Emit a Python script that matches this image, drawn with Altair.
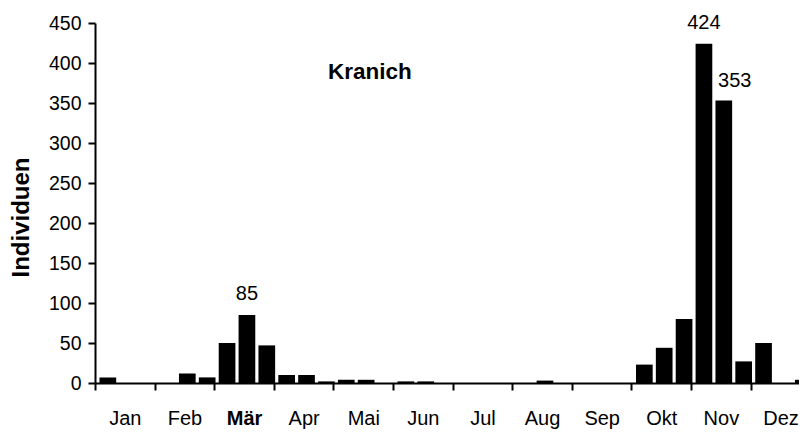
import json
import altair as alt
import pandas as pd

# ---- data ----
months = ["Jan", "Feb", "Mär", "Apr", "Mai", "Jun", "Jul", "Aug", "Sep", "Okt", "Nov", "Dez"]
# three values (Dekaden) per month
decade_values = [
    7, 0, 0,        # Jan
    0, 12, 7,       # Feb
    50, 85, 47,     # Mär
    10, 10, 2,      # Apr
    4, 4, 0,        # Mai
    2, 2, 0,        # Jun
    0, 0, 0,        # Jul
    0, 3, 0,        # Aug
    0, 0, 0,        # Sep
    23, 44, 80,     # Okt
    424, 353, 27,   # Nov
    50, 0, 4,       # Dez
]
y_ticks = [0, 50, 100, 150, 200, 250, 300, 350, 400, 450]
labeled_values = [85, 424]
shifted_labels = [353]

df = pd.DataFrame({
    "slot": list(range(len(decade_values))),
    "value": decade_values,
    "month": [m for m in months for _ in range(3)],
})

FONT = "Liberation Sans"
month_ticks = [3 * k for k in range(len(months))]
month_centres = [3 * k + 1.5 for k in range(len(months))]
axis_values = sorted(month_ticks + month_centres)

label_expr = ("datum.value % 3 == 0 ? '' : "
              + json.dumps(months, ensure_ascii=False)
              + "[floor(datum.value / 3)]")

PLOT_W = 704
x_scale = alt.Scale(domain=[0, PLOT_W / 19.87], nice=False, zero=False)
y_scale = alt.Scale(domain=[0, 450], nice=False)

x_axis = alt.Axis(
    values=axis_values,
    labelExpr=label_expr,
    title=None,
    tickOpacity={"expr": "datum.value % 3 == 0 ? 1 : 0"},
    labelFontSize=20,
    labelFontWeight={"expr": "datum.value == 7.5 ? 'bold' : 'normal'"},
    labelBaseline="alphabetic",
    labelPadding=34,
)

y_axis = alt.Axis(
    values=y_ticks,
    title="Individuen",
    titleFontSize=24,
    titleFontWeight="bold",
    titleAngle=270,
    titleAlign="center",
    titleBaseline="alphabetic",
    titleX=-67,
    titleY=194,
    labelFontSize=19.5,
    labelPadding=7,
)

base = alt.Chart(df).transform_calculate(
    x0="datum.slot + 0.226",
    x1="datum.slot + 1.066",
    xc="datum.slot + 0.646",
)

bars = base.mark_rect(color="black", clip=True).encode(
    x=alt.X("x0:Q", scale=x_scale, axis=x_axis),
    x2="x1:Q",
    y=alt.Y("value:Q", scale=y_scale, axis=y_axis),
    y2=alt.datum(0),
)

labels = base.transform_filter(
    alt.FieldOneOfPredicate(field="value", oneOf=labeled_values)
).mark_text(
    font=FONT, fontSize=20, color="black", baseline="alphabetic", dy=-15
).encode(
    x=alt.X("xc:Q", scale=x_scale, axis=x_axis),
    y=alt.Y("value:Q", scale=y_scale, axis=y_axis),
    text=alt.Text("value:Q"),
)

labels_shifted = base.transform_filter(
    alt.FieldOneOfPredicate(field="value", oneOf=shifted_labels)
).mark_text(
    font=FONT, fontSize=20, color="black", baseline="alphabetic", dy=-14, dx=11
).encode(
    x=alt.X("xc:Q", scale=x_scale, axis=x_axis),
    y=alt.Y("value:Q", scale=y_scale, axis=y_axis),
    text=alt.Text("value:Q"),
)

chart = alt.layer(bars, labels, labels_shifted).properties(
    width=PLOT_W,
    height=360,
    padding={"left": 87, "top": 15, "right": 0, "bottom": 49},
    autosize=alt.AutoSizeParams(type="none"),
    title=alt.TitleParams(
        "Kranich",
        anchor="start",
        frame="group",
        align="left",
        baseline="alphabetic",
        dx=233,
        dy=88.5,
        offset=0,
        font=FONT,
        fontSize=22.5,
        fontWeight="bold",
        color="black",
    ),
).configure(
    background="white",
).configure_view(
    stroke=None,
).configure_axis(
    grid=False,
    domainColor="black",
    domainWidth=2,
    tickColor="black",
    tickWidth=2,
    tickSize=7,
    labelFont=FONT,
    labelColor="black",
    titleFont=FONT,
    titleColor="black",
    labelOverlap=False,
    labelFlush=False,
    labelBound=False,
)

chart.save("out.html", embed_options={"renderer": "svg", "actions": False})
